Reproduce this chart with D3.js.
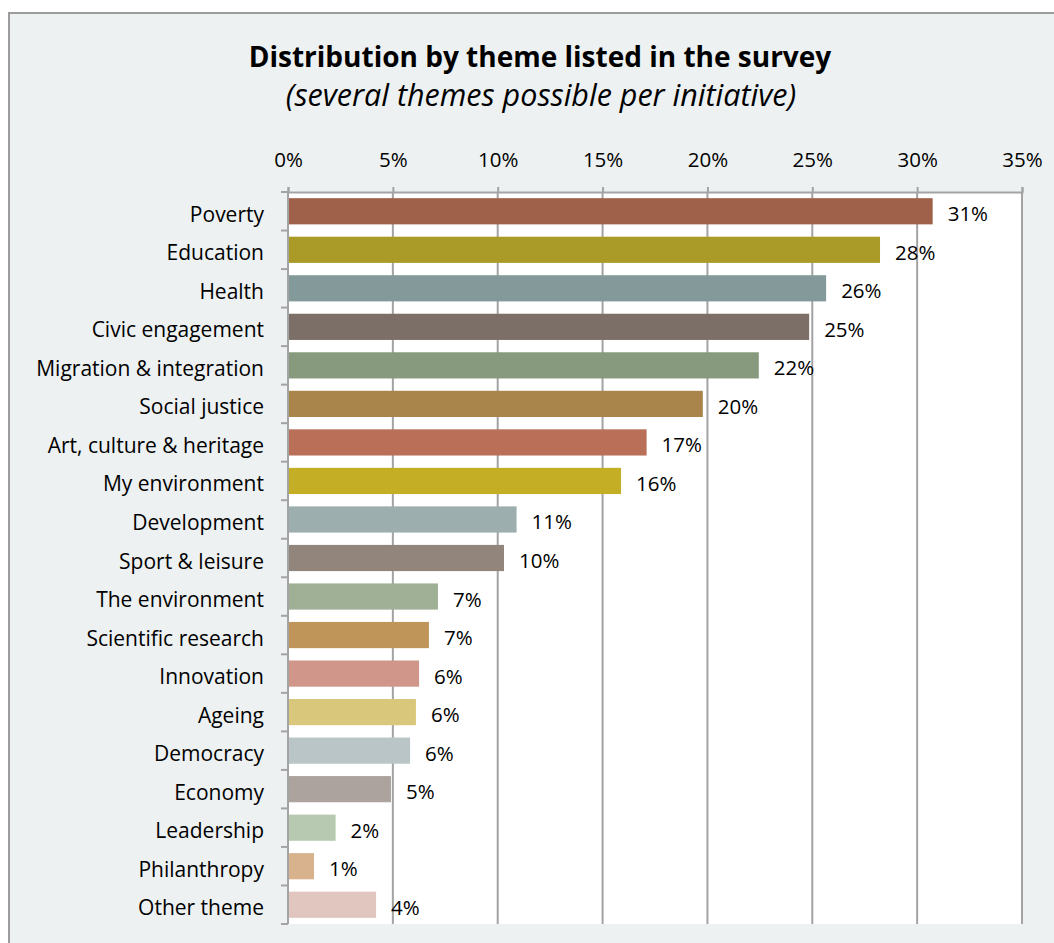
<!DOCTYPE html>
<html>
<head>
<meta charset="utf-8">
<script src="https://cdn.jsdelivr.net/npm/d3@7"></script>
<style>
  html, body { margin: 0; padding: 0; background: #ffffff; }
  svg { display: block; }
  text { font-family: "Open Sans", Lato, sans-serif; fill: #000; }
</style>
</head>
<body>
<svg id="chart" width="1054" height="943"></svg>
<script>
// Share of initiatives per theme (fraction), several themes allowed per initiative
const categories = [
  "Poverty", "Education", "Health", "Civic engagement", "Migration & integration",
  "Social justice", "Art, culture & heritage", "My environment", "Development",
  "Sport & leisure", "The environment", "Scientific research", "Innovation",
  "Ageing", "Democracy", "Economy", "Leadership", "Philanthropy", "Other theme"
];
const shares = [
  0.3074, 0.2823, 0.2566, 0.2485, 0.2245,
  0.1978, 0.1710, 0.1588, 0.1090,
  0.1030, 0.0715, 0.0672, 0.0625,
  0.0610, 0.0582, 0.0491, 0.0227, 0.0124, 0.0420
];
const barColors = [
  "#a0614b", "#aa9b28", "#849a9a", "#7b6f67", "#879a7e",
  "#a9854b", "#b96f58", "#c4ae26", "#9caeae",
  "#91857c", "#9fb096", "#c0955a", "#d1968a",
  "#d9c87c", "#b9c5c6", "#ada39e", "#b8c9b1", "#d8b28d", "#e1c5bf"
];
const tickValues = [0, 0.05, 0.10, 0.15, 0.20, 0.25, 0.30, 0.35];
const title = "Distribution by theme listed in the survey";
const subtitle = "(several themes possible per initiative)";

const svg = d3.select("#chart");
const W = 1054, H = 943;
const plot = { left: 288, right: 1022, top: 192, bottom: 924 };
const gridColor = "#a3a3a3";
const fontFamily = "'Open Sans', Lato, sans-serif";

// chart frame
svg.append("rect")
  .attr("x", 9).attr("y", 13)
  .attr("width", W + 20).attr("height", H + 20)
  .attr("fill", "#edf1f2")
  .attr("stroke", "#9c9c9c").attr("stroke-width", 2);

// plot area
svg.append("rect")
  .attr("x", plot.left).attr("y", plot.top)
  .attr("width", plot.right - plot.left).attr("height", plot.bottom - plot.top)
  .attr("fill", "#ffffff");

const x = d3.scaleLinear().domain([0, 0.35]).range([plot.left, plot.right]);
const y = d3.scaleBand().domain(categories).range([plot.top, plot.bottom])
  .paddingInner(0.32).paddingOuter(0.16);

// vertical gridlines
svg.append("g").selectAll("line").data(tickValues).join("line")
  .attr("x1", d => x(d)).attr("x2", d => x(d))
  .attr("y1", plot.top).attr("y2", plot.bottom)
  .attr("stroke", gridColor).attr("stroke-width", 2);

// top value axis
const xAxis = svg.append("g")
  .attr("transform", `translate(0,${plot.top})`)
  .call(d3.axisTop(x).tickValues(tickValues).tickSize(5).tickPadding(20)
    .tickFormat(d3.format(".0%")));
xAxis.select(".domain").attr("stroke", gridColor).attr("stroke-width", 2);
xAxis.selectAll(".tick line").attr("stroke", gridColor).attr("stroke-width", 2);
xAxis.selectAll(".tick text")
  .style("font-family", fontFamily).style("font-size", "20.5px").attr("fill", "#000");

// left category axis with ticks between bands
const step = y.step();
const bounds = d3.range(categories.length + 1).map(i => plot.top + i * step);
svg.append("line")
  .attr("x1", plot.left).attr("x2", plot.left)
  .attr("y1", plot.top).attr("y2", plot.bottom)
  .attr("stroke", gridColor).attr("stroke-width", 2);
svg.append("g").selectAll("line").data(bounds).join("line")
  .attr("x1", plot.left - 7).attr("x2", plot.left)
  .attr("y1", d => d).attr("y2", d => d)
  .attr("stroke", gridColor).attr("stroke-width", 2);

// bars
svg.append("g").selectAll("rect").data(categories).join("rect")
  .attr("x", x(0) + 1)
  .attr("y", d => y(d))
  .attr("width", (d, i) => x(shares[i]) - x(0) - 1)
  .attr("height", y.bandwidth())
  .attr("fill", (d, i) => barColors[i]);

// category labels
svg.append("g").selectAll("text").data(categories).join("text")
  .attr("x", 264)
  .attr("y", d => y(d) + y.bandwidth() / 2 + 10.5)
  .attr("text-anchor", "end")
  .style("font-size", "21px")
  .text(d => d);

// value labels
svg.append("g").selectAll("text").data(categories).join("text")
  .attr("x", (d, i) => x(shares[i]) + 15)
  .attr("y", d => y(d) + y.bandwidth() / 2 + 10)
  .style("font-size", "20.5px")
  .text((d, i) => Math.round(shares[i] * 100) + "%");

// titles
svg.append("text")
  .attr("x", 540).attr("y", 67)
  .attr("text-anchor", "middle")
  .style("font-size", "28px").style("font-weight", "bold")
  .text(title);
svg.append("text")
  .attr("x", 541).attr("y", 106)
  .attr("text-anchor", "middle")
  .style("font-size", "30.5px").style("font-style", "italic")
  .text(subtitle);
</script>
</body>
</html>
